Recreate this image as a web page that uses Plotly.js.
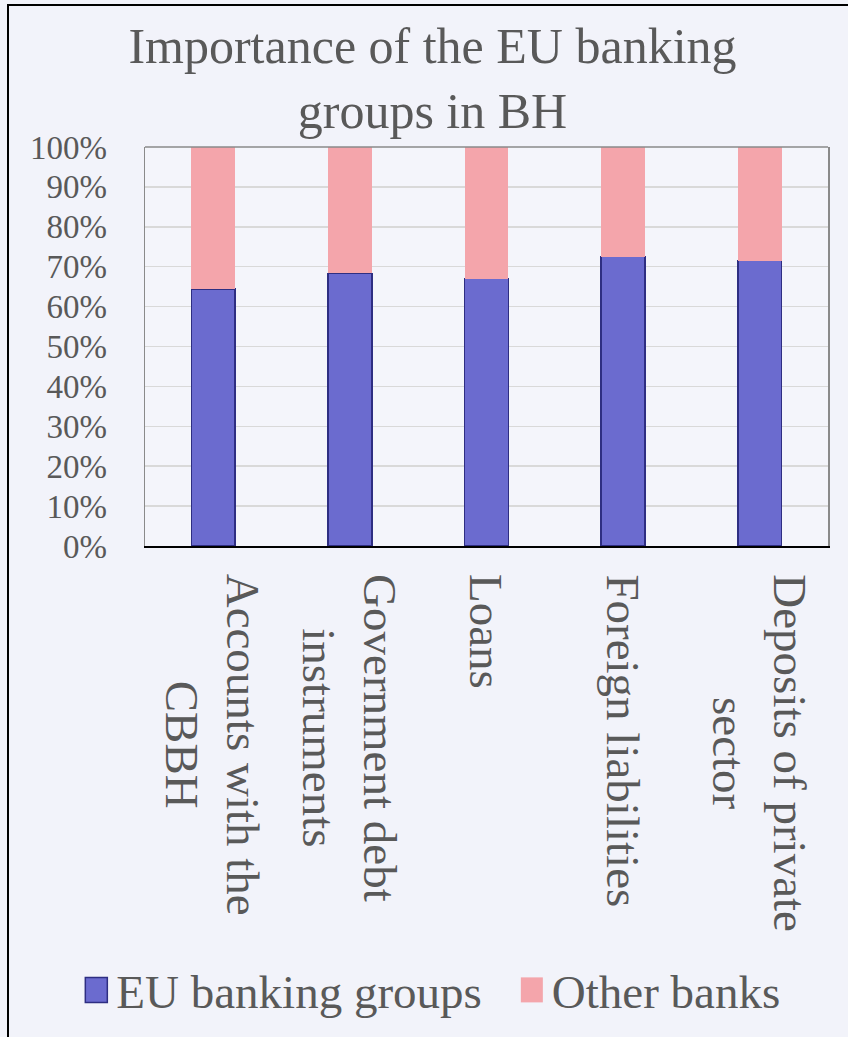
<!DOCTYPE html>
<html>
<head>
<meta charset="utf-8">
<script src="https://cdn.plot.ly/plotly-3.0.1.min.js"></script>
<style>
  html, body { margin: 0; padding: 0; background: #f2f3fa; }
  #wrap { position: relative; width: 848px; height: 1037px; overflow: hidden; }
  #chart { position: absolute; left: 0; top: 0; width: 848px; height: 1037px; }
  #frame { position: absolute; left: 7px; top: 4px; width: 900px; height: 1100px;
           border: 2px solid #000; pointer-events: none; }
</style>
</head>
<body>
<div id="wrap">
  <div id="chart"></div>
  <div id="frame"></div>
</div>
<script>
// ---- data ----
const categories = [
  "Accounts with the<br>CBBH",
  "Government debt<br>instruments",
  "Loans",
  "Foreign liabilities",
  "Deposits of private<br>sector"
];
const euBankingGroups = [64.4, 68.3, 67.0, 72.5, 71.5];
const otherBanks      = [35.6, 31.7, 33.0, 27.5, 28.5];
const yTickValues = [0, 10, 20, 30, 40, 50, 60, 70, 80, 90, 100];
const yTickLabels = ["0%", "10%", "20%", "30%", "40%", "50%", "60%", "70%", "80%", "90%", "100%"];
const seriesNames = ["EU banking groups", "Other banks"];
const titleText = "Importance of the EU banking<br>groups in BH";

// ---- styling ----
const FONT = "Liberation Serif, Times New Roman, serif";
const TXT = "#595959";
const catIdx = categories.map((c, i) => i);

const traces = [
  {
    type: "bar", name: seriesNames[0], x: catIdx, y: euBankingGroups,
    marker: { color: "#6b6bcf", line: { color: "#2e2e82", width: 1.5 } },
    hoverinfo: "skip"
  },
  {
    type: "bar", name: seriesNames[1], x: catIdx, y: otherBanks,
    marker: { color: "#f4a5ab", line: { color: "#f4a5ab", width: 0 } },
    hoverinfo: "skip"
  }
];

const annotations = categories.map((c, i) => ({
  text: c, x: i, xref: "x", y: 0, yref: "paper",
  xanchor: "center", yanchor: "top", yshift: -26,
  textangle: 90, align: "center", showarrow: false,
  font: { family: FONT, size: 47, color: TXT }
}));

const layout = {
  width: 848, height: 1037,
  paper_bgcolor: "#f2f3fa", plot_bgcolor: "#f4f5fb",
  margin: { l: 145, r: 20, t: 147, b: 491 },
  barmode: "stack", bargap: 0.68,
  showlegend: true,
  title: {
    text: titleText, xref: "container", yref: "container",
    x: 0.51, xanchor: "center", y: 0.939, yanchor: "top",
    font: { family: FONT, size: 50, color: TXT }
  },
  xaxis: {
    type: "linear", range: [-0.5, categories.length - 0.5],
    showticklabels: false, showgrid: false, zeroline: false,
    showline: true, linecolor: "#000", linewidth: 2,
    ticks: "", fixedrange: true
  },
  yaxis: {
    range: [0, 100], tickmode: "array", tickvals: yTickValues, ticktext: yTickLabels,
    showgrid: true, gridcolor: "#d9d9d9", gridwidth: 1.5,
    zeroline: false, showline: true, linecolor: "#8a8a8a", linewidth: 1.5,
    mirror: true,
    ticks: "outside", ticklen: 30, tickcolor: "rgba(0,0,0,0)",
    tickfont: { family: FONT, size: 33, color: TXT }, fixedrange: true
  },
  shapes: [{
    type: "line", xref: "paper", yref: "paper", x0: 0, x1: 1, y0: 1, y1: 1,
    line: { color: "#8a8a8a", width: 1.5 }, layer: "above"
  }],
  legend: {
    orientation: "h", xref: "container", yref: "container",
    x: 0.09, xanchor: "left", y: 0.045, yanchor: "middle",
    bgcolor: "rgba(0,0,0,0)", traceorder: "normal",
    itemwidth: 30,
    font: { family: FONT, size: 47, color: TXT },
    itemclick: false, itemdoubleclick: false
  },
  annotations: annotations
};

Plotly.newPlot("chart", traces, layout, { staticPlot: true, displayModeBar: false }).then(() => {
  document.querySelectorAll(".legend .legendpoints path").forEach(p => {
    p.setAttribute("d", "M11,12.5H-11V-12.5H11Z");
  });
  // let the shifted legend entry show in full
  document.querySelectorAll(".legend [clip-path]").forEach(e => e.removeAttribute("clip-path"));
  // widen the gap between the two legend entries
  const items = document.querySelectorAll(".legend g.traces");
  if (items.length > 1) {
    const t = items[1].getAttribute("transform") || "";
    const m = t.match(/translate\(([-\d.]+)[ ,]+([-\d.]+)\)/);
    if (m) items[1].setAttribute("transform",
      "translate(" + (parseFloat(m[1]) + 25) + "," + m[2] + ")");
  }
});
</script>
</body>
</html>
